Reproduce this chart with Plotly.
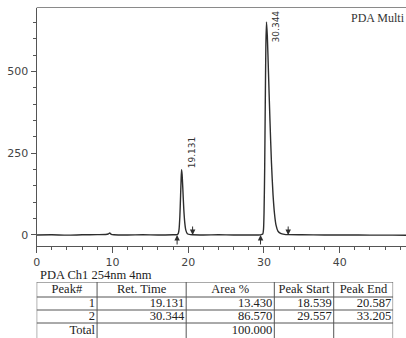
import plotly.graph_objects as go

# Chromatogram trace (retention time in min, detector response in mAU)
time_min = [0, 2, 4, 6, 8, 9.1, 9.45, 9.65, 9.85, 10.2, 12, 14, 16, 18, 18.54,
            18.7, 18.8, 18.9, 19.0, 19.07, 19.13, 19.2, 19.3, 19.42, 19.55, 19.7,
            19.9, 20.3, 20.59, 22, 24, 26, 28, 29.56, 29.85, 29.95, 30.02, 30.1,
            30.18, 30.26, 30.34, 30.45, 30.6, 30.8, 31.0, 31.2, 31.4, 31.6, 31.85,
            32.2, 32.7, 33.2, 35, 38, 41, 44, 47, 49]
signal_mau = [0, 0.5, -0.5, 0.5, 1, 1.5, 3, 6, 2, 0.5, 0, 0.5, 0, 0.5, 1,
              5, 18, 55, 120, 170, 200, 185, 140, 80, 38, 14,
              4, 1, 0.5, 0, 0.5, 0, 0, 0.5, 3, 18, 70, 200,
              400, 580, 652, 610, 500, 350, 220, 125, 65, 30, 12,
              5, 2, 1, 0.5, 0, 0, -0.5, -0.5, -1]

# Peak table
table_header = ["Peak#", "Ret. Time", "Area %", "Peak Start", "Peak End"]
peak_no = ["1", "2"]
ret_time = [19.131, 30.344]
peak_height = [200, 652]
area_pct = [13.430, 86.570]
area_total = 100.000
peak_start = [18.539, 29.557]
peak_end = [20.587, 33.205]

AXIS = "#555555"
INK = "#2e2e2e"
TXT = "#222222"
W, H = 406, 338

fig = go.Figure()

fig.add_trace(go.Scatter(
    x=time_min, y=signal_mau, mode="lines",
    line=dict(color=INK, width=1.4, shape="spline", smoothing=0.6),
    hoverinfo="skip", showlegend=False,
))

# Retention-time labels above each peak
label_shift = [(10, 17), (9, -5)]
for rt, h, (dx, dy) in zip(ret_time, peak_height, label_shift):
    fig.add_annotation(
        x=rt, y=h, xref="x", yref="y", text=f"{rt:.3f}", showarrow=False,
        textangle=-90, xshift=dx, yshift=dy, xanchor="center", yanchor="middle",
        font=dict(family="DejaVu Sans", size=9, color="#333333"),
    )

# Integration start (up) and end (down) markers
for t in peak_start:
    fig.add_annotation(x=t, y=0, xref="x", yref="y", ax=0, ay=11, text="",
                       showarrow=True, arrowhead=2, arrowsize=1.1,
                       arrowwidth=1, arrowcolor=INK)
for t in peak_end:
    fig.add_annotation(x=t, y=0, xref="x", yref="y", ax=0, ay=-10, text="",
                       showarrow=True, arrowhead=2, arrowsize=1.1,
                       arrowwidth=1, arrowcolor=INK)

# Top frame line of the chromatogram panel
fig.add_shape(type="line", xref="x domain", yref="y domain",
              x0=0, x1=1, y0=1, y1=1, line=dict(color="#8a8a8a", width=1))

fig.add_annotation(x=348 / W, y=1 - 18 / H, xref="paper", yref="paper",
                   text="PDA Multi", showarrow=False, xanchor="left",
                   yanchor="middle",
                   font=dict(family="Liberation Serif", size=12, color="#333333"))

fig.add_annotation(x=34 / W, y=1 - 275 / H, xref="paper", yref="paper",
                   text="PDA Ch1 254nm 4nm", showarrow=False, xanchor="left",
                   yanchor="middle",
                   font=dict(family="Liberation Serif", size=12.5, color=TXT))

# ---- Peak table, laid out on its own pixel-scaled axes (x2 / y2) ----
col_edges = [0, 61, 151, 240, 300, 360]
row_edges = [0, 15, 28, 41, 56]

fmt = lambda v: f"{v:.3f}"
body_rows = [
    [peak_no[i], fmt(ret_time[i]), fmt(area_pct[i]), fmt(peak_start[i]), fmt(peak_end[i])]
    for i in range(len(peak_no))
]
body_rows.append(["Total", "", fmt(area_total), "", ""])

hx, hy, ht = [], [], []
for c, label in enumerate(table_header):
    hx.append((col_edges[c] + col_edges[c + 1]) / 2)
    hy.append((row_edges[0] + row_edges[1]) / 2 + 0.5)
    ht.append(label)
fig.add_trace(go.Scatter(
    x=hx, y=hy, text=ht, mode="text", textposition="middle center",
    textfont=dict(family="Liberation Serif", size=12.5, color=TXT),
    xaxis="x2", yaxis="y2", hoverinfo="skip", showlegend=False,
))

bx, by, bt = [], [], []
for r, row in enumerate(body_rows):
    for c, val in enumerate(row):
        if val:
            bx.append(col_edges[c + 1] - 2)
            by.append((row_edges[r + 1] + row_edges[r + 2]) / 2 + 0.5)
            bt.append(val)
fig.add_trace(go.Scatter(
    x=bx, y=by, text=bt, mode="text", textposition="middle left",
    textfont=dict(family="Liberation Serif", size=12.5, color=TXT),
    xaxis="x2", yaxis="y2", hoverinfo="skip", showlegend=False,
    cliponaxis=False,
))

grid = dict(color=AXIS, width=1)
for xe in col_edges:
    fig.add_shape(type="line", xref="x2", yref="y2", x0=xe, x1=xe,
                  y0=row_edges[0], y1=row_edges[-1], line=grid)
for ye in row_edges[:-1]:
    fig.add_shape(type="line", xref="x2", yref="y2", x0=col_edges[0],
                  x1=col_edges[-1], y0=ye, y1=ye, line=grid)

fig.update_layout(
    width=W, height=H,
    margin=dict(l=0, r=0, t=0, b=0),
    paper_bgcolor="white", plot_bgcolor="white",
    showlegend=False,
    xaxis=dict(
        domain=[33 / W, 1], range=[0, 48.76],
        showline=True, linecolor=AXIS, linewidth=1.2,
        ticks="outside", ticklen=6, tickcolor=AXIS, tickwidth=1,
        tick0=0, dtick=10,
        minor=dict(dtick=2, ticks="outside", ticklen=3, tickcolor=AXIS),
        showgrid=False, zeroline=False,
        tickfont=dict(family="DejaVu Sans", size=11, color="#444444"),
    ),
    yaxis=dict(
        domain=[(H - 246) / H, (H - 7.5) / H], range=[-33.7, 696],
        showline=True, linecolor=AXIS, linewidth=1.2,
        ticks="outside", ticklen=5, tickcolor=AXIS, tickwidth=1,
        tickvals=[0, 250, 500],
        minor=dict(dtick=50, ticks="outside", ticklen=3, tickcolor=AXIS),
        showgrid=False, zeroline=False,
        tickfont=dict(family="DejaVu Sans", size=11, color="#444444"),
    ),
    xaxis2=dict(domain=[33 / W, 393 / W], range=[0, 360], visible=False,
                fixedrange=True, anchor="y2"),
    yaxis2=dict(domain=[0, 56 / H], range=[56, 0], visible=False,
                fixedrange=True, anchor="x2"),
)

fig.write_html("out.html")
